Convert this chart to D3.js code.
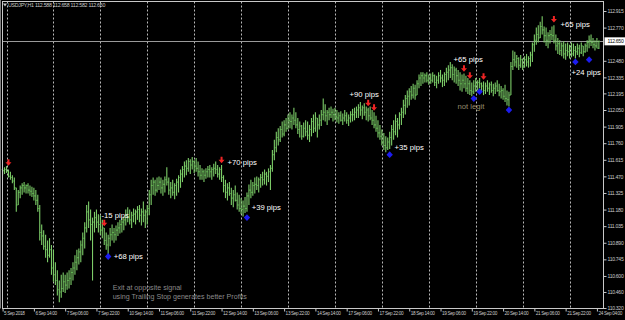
<!DOCTYPE html>
<html><head><meta charset="utf-8">
<script src="https://cdn.jsdelivr.net/npm/d3@7"></script>
<style>html,body{margin:0;padding:0;background:#000;overflow:hidden}svg{display:block}</style>
</head><body><svg id="c" width="625" height="320"></svg>
<script>
const symbolTitle = "USDJPY,H1 112.588 112.658 112.582 112.650";
const firstOpen = 111.53;
const highs = [
111.54,111.55,111.56,111.53,111.51,111.48,111.46,111.37,111.35,111.39,
111.41,111.42,111.40,111.41,111.39,111.38,111.37,111.35,111.31,111.22,
111.05,111.00,110.96,110.91,110.93,110.87,110.83,110.72,110.65,110.56,
110.61,110.63,110.61,110.63,110.65,110.67,110.72,110.78,110.83,110.84,
110.91,110.98,111.07,111.22,111.25,111.18,111.11,111.16,111.18,111.14,
111.13,111.09,111.02,110.98,110.96,111.02,111.05,111.02,111.04,111.07,
111.09,111.11,111.12,111.18,111.20,111.18,111.16,111.19,111.18,111.21,
111.22,111.19,111.25,111.18,111.22,111.35,111.44,111.46,111.44,111.46,
111.47,111.46,111.44,111.47,111.55,111.46,111.42,111.44,111.41,111.45,
111.48,111.53,111.56,111.60,111.61,111.63,111.62,111.64,111.61,111.63,
111.60,111.57,111.54,111.53,111.54,111.56,111.57,111.55,111.58,111.60,
111.57,111.55,111.57,111.48,111.44,111.41,111.42,111.37,111.35,111.39,
111.33,111.31,111.28,111.26,111.29,111.33,111.40,111.44,111.42,111.46,
111.47,111.46,111.49,111.51,111.53,111.51,111.54,111.57,111.70,111.79,
111.86,111.89,111.91,111.95,111.96,111.98,112.01,112.03,112.01,112.07,
112.03,111.98,111.95,111.92,111.94,111.96,111.95,111.92,111.98,112.01,
112.03,111.98,112.01,112.05,112.15,112.10,112.05,112.07,112.08,112.06,
112.07,112.05,112.03,112.04,112.02,112.05,112.03,112.01,112.04,112.06,
112.07,112.08,112.10,112.12,112.09,112.11,112.08,112.07,112.08,112.05,
112.03,112.00,111.96,111.92,111.88,111.85,111.82,111.81,111.86,111.92,
111.96,112.01,111.98,112.03,112.07,112.14,112.18,112.22,112.24,112.26,
112.28,112.27,112.31,112.36,112.38,112.38,112.37,112.38,112.36,112.37,
112.38,112.36,112.35,112.38,112.40,112.36,112.38,112.42,112.44,112.47,
112.45,112.43,112.42,112.40,112.38,112.36,112.37,112.35,112.33,112.31,
112.29,112.31,112.33,112.31,112.33,112.29,112.30,112.29,112.31,112.29,
112.30,112.28,112.29,112.31,112.28,112.26,112.24,112.27,112.22,112.21,
112.47,112.57,112.56,112.53,112.51,112.53,112.50,112.52,112.54,112.52,
112.56,112.64,112.71,112.77,112.79,112.82,112.87,112.78,112.77,112.73,
112.75,112.78,112.79,112.71,112.68,112.66,112.64,112.65,112.63,112.64,
112.62,112.64,112.63,112.61,112.63,112.62,112.64,112.61,112.63,112.66,
112.70,112.71,112.68,112.66,112.68,112.658];
const lows = [
111.48,111.49,111.50,111.46,111.44,111.41,111.35,111.16,111.22,111.28,
111.31,111.33,111.32,111.32,111.30,111.29,111.26,111.22,111.16,110.91,
110.87,110.83,110.76,110.72,110.76,110.61,110.55,110.52,110.43,110.37,
110.41,110.46,110.45,110.48,110.49,110.52,110.56,110.61,110.65,110.70,
110.72,110.78,110.84,110.98,111.02,110.91,110.56,110.98,111.02,110.98,
110.96,110.93,110.87,110.83,110.79,110.86,110.91,110.89,110.91,110.95,
110.97,110.98,111.00,111.04,111.07,111.05,111.02,111.07,111.05,111.09,
111.07,111.04,111.07,111.02,111.05,111.13,111.22,111.31,111.30,111.33,
111.35,111.32,111.30,111.33,111.39,111.31,111.28,111.30,111.27,111.30,
111.33,111.37,111.42,111.46,111.48,111.51,111.49,111.53,111.50,111.51,
111.47,111.44,111.44,111.42,111.45,111.46,111.46,111.44,111.47,111.49,
111.46,111.44,111.42,111.33,111.28,111.26,111.30,111.22,111.20,111.25,
111.18,111.16,111.14,111.12,111.15,111.16,111.22,111.28,111.30,111.32,
111.35,111.33,111.37,111.39,111.40,111.39,111.42,111.35,111.51,111.61,
111.68,111.74,111.77,111.81,111.82,111.86,111.88,111.89,111.88,111.92,
111.89,111.84,111.81,111.79,111.81,111.82,111.79,111.77,111.82,111.85,
111.86,111.81,111.88,111.91,111.96,111.95,111.92,111.96,111.98,111.95,
111.96,111.94,111.93,111.95,111.92,111.95,111.93,111.91,111.94,111.95,
111.96,111.98,111.98,112.00,111.97,112.00,111.96,111.95,111.96,111.92,
111.89,111.86,111.81,111.79,111.74,111.70,111.68,111.70,111.71,111.74,
111.79,111.83,111.81,111.88,111.92,111.98,112.01,112.07,112.09,112.14,
112.15,112.14,112.18,112.24,112.26,112.28,112.29,112.29,112.27,112.28,
112.29,112.26,112.24,112.28,112.29,112.25,112.26,112.29,112.31,112.33,
112.31,112.29,112.28,112.26,112.22,112.21,112.24,112.21,112.19,112.18,
112.17,112.19,112.21,112.22,112.24,112.21,112.18,112.19,112.21,112.18,
112.20,112.17,112.19,112.21,112.17,112.15,112.14,112.12,112.09,112.08,
112.18,112.40,112.43,112.42,112.40,112.42,112.40,112.42,112.43,112.42,
112.43,112.47,112.56,112.62,112.64,112.68,112.71,112.64,112.61,112.59,
112.63,112.66,112.63,112.57,112.54,112.53,112.52,112.50,112.49,112.52,
112.50,112.51,112.52,112.50,112.53,112.51,112.54,112.52,112.55,112.56,
112.59,112.61,112.59,112.57,112.59,112.582];
const closes = [
111.52,111.53,111.51,111.47,111.46,111.43,111.37,111.22,111.33,111.37,
111.39,111.37,111.39,111.35,111.34,111.32,111.30,111.26,111.19,110.98,
110.95,110.86,110.83,110.78,110.83,110.67,110.61,110.56,110.48,110.46,
110.49,110.55,110.52,110.56,110.58,110.63,110.67,110.72,110.76,110.81,
110.87,110.93,111.02,111.16,111.09,111.05,111.07,111.11,111.07,111.05,
111.00,111.02,110.91,110.87,110.93,110.96,110.98,110.96,111.00,111.02,
111.05,111.07,111.09,111.13,111.11,111.09,111.13,111.14,111.16,111.18,
111.13,111.16,111.13,111.16,111.19,111.31,111.39,111.42,111.35,111.39,
111.42,111.37,111.40,111.44,111.42,111.35,111.37,111.33,111.39,111.42,
111.46,111.49,111.53,111.56,111.54,111.60,111.57,111.60,111.56,111.54,
111.51,111.48,111.51,111.48,111.51,111.53,111.51,111.53,111.54,111.53,
111.49,111.53,111.46,111.39,111.33,111.37,111.32,111.28,111.31,111.26,
111.22,111.19,111.18,111.21,111.19,111.30,111.35,111.33,111.39,111.40,
111.39,111.44,111.46,111.44,111.49,111.47,111.51,111.54,111.66,111.72,
111.81,111.79,111.88,111.84,111.92,111.89,111.96,111.95,111.98,111.96,
111.92,111.88,111.91,111.82,111.89,111.86,111.83,111.88,111.95,111.89,
111.98,111.92,111.96,112.01,112.03,112.00,112.03,112.01,112.03,112.01,
111.99,111.98,112.00,111.96,111.98,112.00,111.96,111.98,112.01,112.01,
112.03,112.05,112.07,112.05,112.07,112.03,112.05,112.00,111.98,111.96,
111.92,111.89,111.85,111.82,111.77,111.74,111.72,111.77,111.81,111.88,
111.86,111.95,111.92,112.01,112.03,112.09,112.15,112.17,112.21,112.18,
112.24,112.18,112.28,112.33,112.35,112.33,112.35,112.31,112.33,112.31,
112.35,112.29,112.31,112.35,112.33,112.31,112.36,112.38,112.40,112.42,
112.36,112.40,112.35,112.31,112.28,112.31,112.28,112.24,112.28,112.22,
112.21,112.26,112.28,112.29,112.28,112.26,112.22,112.26,112.24,112.27,
112.22,112.24,112.26,112.22,112.21,112.22,112.17,112.15,112.14,112.18,
112.43,112.49,112.47,112.50,112.44,112.49,112.43,112.49,112.47,112.50,
112.53,112.62,112.66,112.71,112.68,112.78,112.75,112.70,112.66,112.70,
112.71,112.70,112.66,112.61,112.63,112.57,112.61,112.54,112.57,112.56,
112.59,112.54,112.57,112.56,112.59,112.55,112.61,112.56,112.61,112.64,
112.66,112.64,112.62,112.61,112.59,112.650];
const currentPrice = 112.650;
const priceTicks = [112.915,112.770,112.480,112.335,112.195,112.050,111.905,111.760,111.615,111.470,111.325,111.180,111.035,110.890,110.745,110.600,110.460,110.320];
const timeTickBars = [0,16,32,48,64,80,96,112,128,144,160,176,192,208,224,240,256,272,288,304];
const timeTickLabels = ["5 Sep 2018","6 Sep 14:00","7 Sep 06:00","7 Sep 22:00","10 Sep 14:00","11 Sep 06:00","11 Sep 22:00","12 Sep 14:00","13 Sep 06:00","13 Sep 22:00","14 Sep 14:00","17 Sep 06:00","17 Sep 22:00","18 Sep 14:00","19 Sep 06:00","19 Sep 22:00","20 Sep 14:00","21 Sep 06:00","21 Sep 22:00","24 Sep 04:00"];
const dayGridBars = [2,26,50,74,98,122,146,170,194,218,242,266,290];
const sellBars = [3,52,112,187,190,236,239,246,282];
const sellPrices = [111.59,111.06,111.61,112.11,112.07,112.41,112.35,112.34,112.84];
const buyBars = [54,125,198,241,244,259,293,300];
const buyPrices = [110.77,111.11,111.66,112.15,112.21,112.05,112.47,112.49];
const noteTexts = ["-15 pips","+68 pips","+70 pips","+39 pips","+90 pips","+35 pips","+65 pips","not legit","+65 pips","+24 pips"];
const noteBars = [50.6,56.8,115.1,127.4,177.5,200.5,230.7,232.7,285.4,291];
const notePrices = [111.13,110.77,111.59,111.20,112.19,111.72,112.49,112.085,112.80,112.38];
const commentLines = ["Exit at opposite signal","using Trailing Stop generates better Profits"];
const commentBar = 56.3;
const commentPrices = [110.50,110.42];

const svg = d3.select("#c");
const L = 2.5, R = 603.5, T = 1.5, B = 308.5;
const smallFont = "'Liberation Sans',Arial,sans-serif";
const x = d3.scaleLinear().domain([0, highs.length - 1]).range([2.6, 2.6 + (highs.length - 1) * 1.955]);
const y = d3.scaleLinear().domain([110.320, 112.915]).range([308, 11]);

svg.append("rect").attr("width",625).attr("height",320).attr("fill","#000");

// day grid
svg.append("g").selectAll("line").data(dayGridBars).join("line")
  .attr("x1", d => Math.round(x(d)) + 0.5).attr("x2", d => Math.round(x(d)) + 0.5)
  .attr("y1", T).attr("y2", B)
  .attr("stroke", "#b8b8b8").attr("stroke-width", 1).attr("stroke-dasharray", "2,2");

// current price line
svg.append("line").attr("x1", L).attr("x2", R)
  .attr("y1", Math.round(y(currentPrice)) + 0.5).attr("y2", Math.round(y(currentPrice)) + 0.5)
  .attr("stroke", "#9a9a9a").attr("stroke-width", 1);

// bars
const idx = d3.range(highs.length);
const gb = svg.append("g");
const openOf = i => (i === 0 ? firstOpen : closes[i - 1]);
gb.selectAll("line.op").data(idx).join("line").attr("class","op")
  .attr("x1", i => x(i) - 1).attr("x2", i => x(i))
  .attr("y1", i => y(openOf(i))).attr("y2", i => y(openOf(i)))
  .attr("stroke", "#3f8f36").attr("stroke-width", 1.1);
gb.selectAll("line.cl").data(idx).join("line").attr("class","cl")
  .attr("x1", i => x(i)).attr("x2", i => x(i) + 1)
  .attr("y1", i => y(closes[i])).attr("y2", i => y(closes[i]))
  .attr("stroke", "#3f8f36").attr("stroke-width", 1.1);
gb.selectAll("line.hl").data(idx).join("line").attr("class","hl")
  .attr("x1", i => x(i)).attr("x2", i => x(i))
  .attr("y1", i => y(highs[i])).attr("y2", i => y(lows[i]))
  .attr("stroke", "#7ccc68").attr("stroke-width", 1.1);

// frame
svg.append("rect").attr("x", L).attr("y", T).attr("width", R - L).attr("height", B - T)
  .attr("fill", "none").attr("stroke", "#c8c8c8").attr("stroke-width", 1);
svg.append("line").attr("x1",0.5).attr("x2",0.5).attr("y1",0).attr("y2",B).attr("stroke","#808080");

// price axis
const ya = svg.append("g").attr("transform", `translate(${R},0)`)
  .call(d3.axisRight(y).tickValues(priceTicks).tickSize(3).tickFormat(d3.format(".3f")));
ya.select(".domain").remove();
ya.selectAll(".tick line").attr("stroke", "#c8c8c8");
ya.selectAll(".tick text").attr("x", 4).attr("fill", "#c8c8c8")
  .style("font-family", smallFont).style("font-size", "5.1px").style("letter-spacing", "-0.3px");

// current price label
const cy = y(currentPrice);
svg.append("rect").attr("x", R + 1).attr("y", cy - 4).attr("width", 20.5).attr("height", 8).attr("fill", "#ffffff");
svg.append("text").attr("x", R + 4).attr("y", cy).attr("dy", "0.35em").text(d3.format(".3f")(currentPrice))
  .attr("fill", "#000").style("font-family", smallFont).style("font-size", "5.1px").style("letter-spacing", "-0.3px");

// time axis
const xa = svg.append("g").attr("transform", `translate(0,${B})`)
  .call(d3.axisBottom(x).tickValues(timeTickBars).tickSize(3).tickFormat((d, k) => timeTickLabels[k]));
xa.select(".domain").remove();
xa.selectAll(".tick line").attr("stroke", "#c8c8c8");
xa.selectAll(".tick text").attr("text-anchor", "start").attr("x", 1).attr("y", 3).attr("dy", "0.71em")
  .attr("fill", "#c8c8c8").style("font-family", smallFont).style("font-size", "4.7px").style("letter-spacing", "-0.35px");

// title
svg.append("path").attr("d", "M3,3.5 L7,3.5 L5,6.5 Z").attr("fill", "#c8c8c8");
svg.append("text").attr("x", 8).attr("y", 5.2).attr("dy", "0.35em").text(symbolTitle)
  .attr("fill", "#c8c8c8").style("font-family", smallFont).style("font-size", "5.3px").style("letter-spacing", "-0.3px");

// sell arrows
svg.append("g").selectAll("path").data(sellBars.map((b, k) => [b, sellPrices[k]])).join("path")
  .attr("transform", d => `translate(${x(d[0])},${y(d[1])})`)
  .attr("d", "M-1,-3.5 L1,-3.5 L1,-0.5 L3,-0.5 L0,3 L-3,-0.5 L-1,-0.5 Z")
  .attr("fill", "#f02424");

// buy marks
svg.append("g").selectAll("path").data(buyBars.map((b, k) => [b, buyPrices[k]])).join("path")
  .attr("transform", d => `translate(${x(d[0])},${y(d[1])})`)
  .attr("d", "M0,-3.4 L3.2,0 L0,3.4 L-3.2,0 Z")
  .attr("fill", "#1c1cf0");

// notes
svg.append("g").selectAll("text").data(noteTexts.map((t, k) => [t, noteBars[k], notePrices[k]])).join("text")
  .attr("x", d => x(d[1])).attr("y", d => y(d[2])).attr("dy", "0.35em").text(d => d[0])
  .attr("fill", d => d[0] === "not legit" ? "#958b6c" : "#ffffff")
  .style("font-family", "Liberation Sans, Arial, sans-serif").style("font-size", "7.7px");

svg.append("g").selectAll("text").data(commentLines.map((t, k) => [t, commentPrices[k]])).join("text")
  .attr("x", x(commentBar)).attr("y", d => y(d[1])).attr("dy", "0.35em").text(d => d[0])
  .attr("fill", "#8a8a8a").style("font-family", "Liberation Sans, Arial, sans-serif").style("font-size", "7.1px");
</script></body></html>
